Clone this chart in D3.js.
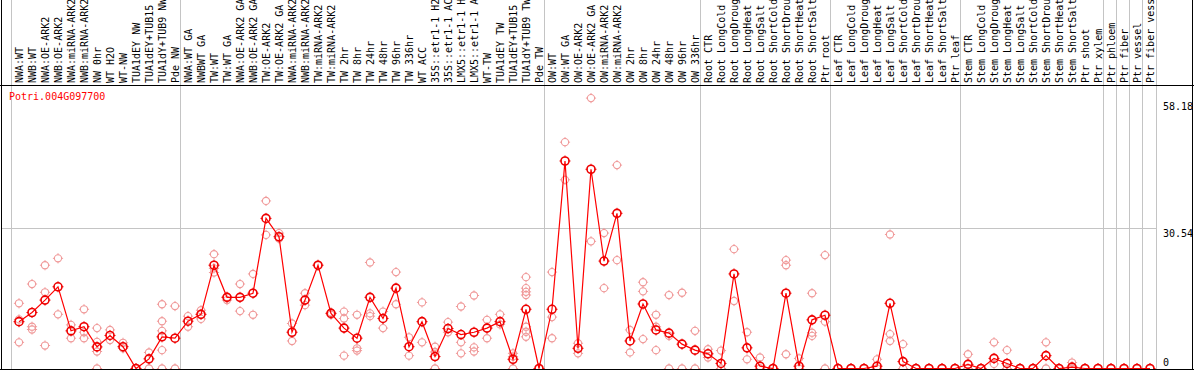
<!DOCTYPE html>
<html lang="en">
<head>
<meta charset="utf-8">
<title>Potri.004G097700</title>
<script src="https://cdn.jsdelivr.net/npm/d3@7"></script>
<style>
  body { margin: 0; background: #fff; }
  svg { display: block; font-family: "DejaVu Sans Mono", monospace; font-size: 10px; }
</style>
</head>
<body>
<svg id="chart" width="1194" height="370"></svg>
<script>

var geneName = "Potri.004G097700";

// sample labels, as shown (cut at 14 chars)
var samples = [
  "NWA:WT", "NWB:WT", "NWA:OE-ARK2", "NWB:OE-ARK2", "NWA:miRNA-ARK2", "NWB:miRNA-ARK2",
  "NW 0hr", "WT H2O", "WT-NW", "TUA1dEY NW", "TUA1dEY+TUB15", "TUA1dY+TUB9 NW", "Pde NW",
  "NWA:WT GA", "NWBWT GA", "TW:WT", "TW:WT GA", "NWA:OE-ARK2 GA", "NWB:OE-ARK2 GA",
  "TW:OE-ARK2", "TW:OE-ARK2 GA", "NWA:miRNA-ARK2", "NWB:miRNA-ARK2", "TW:miRNA-ARK2",
  "TW:miRNA-ARK2", "TW 2hr", "TW 8hr", "TW 24hr", "TW 48hr", "TW 96hr", "TW 336hr",
  "WT ACC", "35S::etr1-1 H2", "35S::etr1-1 AC", "LMX5::etr1-1 H", "LMX5::etr1-1 A",
  "WT-TW", "TUA1dEY TW", "TUA1dEY+TUB15", "TUA1dY+TUB9 TW", "Pde TW",
  "OW:WT", "OW:WT GA", "OW:OE-ARK2", "OW:OE-ARK2 GA", "OW:miRNA-ARK2", "OW:miRNA-ARK2",
  "OW 2hr", "OW 8hr", "OW 24hr", "OW 48hr", "OW 96hr", "OW 336hr",
  "Root CTR", "Root LongCold", "Root LongDroug", "Root LongHeat", "Root LongSalt",
  "Root ShortCold", "Root ShortDrou", "Root ShortHeat", "Root ShortSalt", "Ptr root",
  "Leaf CTR", "Leaf LongCold", "Leaf LongDroug", "Leaf LongHeat", "Leaf LongSalt",
  "Leaf ShortCold", "Leaf ShortDrou", "Leaf ShortHeat", "Leaf ShortSalt", "Ptr leaf",
  "Stem CTR", "Stem LongCold", "Stem LongDroug", "Stem LongHeat", "Stem LongSalt",
  "Stem ShortCold", "Stem ShortDrou", "Stem ShortHeat", "Stem ShortSalt", "Ptr shoot",
  "Ptr xylem", "Ptr phloem", "Ptr fiber", "Ptr vessel", "Ptr fiber vess"
];

// index of the first sample of each group (gray separators)
var groupStarts = [0, 13, 41, 53, 63, 73, 84, 85, 86, 87];

// mean expression per sample
var means = [
  10.2, 12.2, 14.9, 17.8, 8.2, 9.1, 4.7, 7.2, 4.75, 0, 2.1, 6.9, 6.6,
  10.3, 11.8, 22.5, 15.5, 15.5, 16.4, 32.7, 28.7, 7.9, 14.9, 22.5, 12.0, 8.8, 6.6,
  15.5, 10.9, 17.5, 4.75, 10.2, 2.6, 8.7, 7.4, 7.9, 8.8, 10.2, 2.0, 12.9, 0,
  12.9, 45.2, 4.4, 43.4, 23.4, 33.8, 6.0, 14.05, 8.4, 7.7, 5.3, 4.0,
  3.2, 1.1, 20.6, 4.5, 0.5, 0, 16.4, 0.5, 10.6, 11.6,
  0, 0, 0, 0.5, 14.2, 1.5, 0, 0, 0, 0,
  0.9, 0, 2.2, 1.1, 0, 0, 2.8, 0, 0.3, 0, 0,
  0, 0, 0, 0
];

// individual replicates per sample
var replicates = [
  [14.2, 5.7, 10.7], [18.4, 9.1, 8.5], [22.5, 16.6, 5.0], [24.0, 11.8], [9.5, 6.6], [12.9, 7.9, 6.6],
  [8.8, 5.8, 3.7, 0], [8.4, 6.2], [5.6, 4.4], [0], [3.5, 0], [14.0, 10.3, 8.2, 4.0, 0], [13.6, 0],
  [11.4, 9.1], [12.7, 10.8], [24.9, 21.8, 20.9], [14.9, 15.6], [18.4, 12.5], [20.6, 11.7],
  [36.5, 29.1], [29.5, 28.3], [9.8, 6.0], [16.4, 13.8], [22.5], [12.2, 11.7], [12.4, 10.9, 2.8],
  [11.7, 4.4, 3.9], [23.1, 12.0, 11.4], [12.4, 8.8], [21.0, 14.0], [6.8, 2.8], [14.4, 5.7],
  [4.75, 3.6, 0], [10.1, 7.9], [13.5, 5.7, 3.3], [15.9, 4.6, 3.7], [10.6, 6.6], [11.8, 9.6],
  [3.3, 2.6, 0], [19.9, 17.5, 16.7, 16.0, 9.1, 8.0, 6.9], [0],
  [21.0, 11.2, 6.6], [49.3, 41.1], [5.5, 3.3], [58.9, 27.7], [29.5, 17.5], [44.3, 23.6],
  [8.4, 3.5], [18.8, 16.8, 6.4], [11.7, 9.1, 4.0], [16.0, 7.1, 0], [16.5, 0], [8.2, 0],
  [4.2, 2.4], [3.9, 0], [26.0, 14.7], [7.9, 2.0], [2.4, 0], [0], [23.6, 22.5, 3.1], [2.2, 0],
  [16.4, 7.8, 7.1], [24.7, 10.2, 0],
  [0], [0], [0], [2.0, 0], [29.2, 7.5, 6.0], [5.3, 0], [0], [0], [0], [0],
  [3.1, 0], [0], [5.7, 1.0], [4.0, 0], [0], [0], [5.7, 0], [0], [1.3, 0], [0], [0],
  [0], [0], [0], [0]
];

// right axis labels
var yTicks = [0, 30.54, 58.18];
var gridValue = 30.54;

var W = 1194, H = 370;
var headerY = 85.5, bottomY = 369, plotRight = 1156.5;

var svg = d3.select("#chart");

var x = d3.scaleBand()
  .domain(d3.range(samples.length))
  .range([12.5, 12.5 + samples.length * 13]);

var cx = function(i) { return x(i) + x.bandwidth() / 2; };

var y = d3.scaleLinear()
  .domain([0, 58.18])
  .range([368.5, 101.4]);

// gray separators between groups (full height)
var seps = groupStarts.map(function(i) { return x(i) - 1; });
seps.push(plotRight);

svg.append("g").selectAll("line")
  .data(seps)
  .enter().append("line")
  .attr("x1", function(d) { return d; })
  .attr("x2", function(d) { return d; })
  .attr("y1", 0)
  .attr("y2", H)
  .attr("stroke", "#c4c4c4")
  .attr("stroke-width", 1);

// gridline
svg.append("line")
  .attr("x1", 2).attr("x2", plotRight)
  .attr("y1", Math.round(y(gridValue)) + 0.5)
  .attr("y2", Math.round(y(gridValue)) + 0.5)
  .attr("stroke", "#c4c4c4");

// sample labels, rotated
svg.append("g").selectAll("text")
  .data(samples)
  .enter().append("text")
  .attr("transform", function(d, i) { return "translate(" + (cx(i) + 0.5) + ",83) rotate(-90)"; })
  .attr("dy", "0.35em")
  .attr("fill", "#000")
  .text(function(d) { return d; });

// frame
svg.append("line").attr("x1", 0).attr("x2", W).attr("y1", headerY).attr("y2", headerY).attr("stroke", "#000");
svg.append("line").attr("x1", 1.5).attr("x2", 1.5).attr("y1", 0).attr("y2", H).attr("stroke", "#000");
svg.append("line").attr("x1", 1192.5).attr("x2", 1192.5).attr("y1", 0).attr("y2", H).attr("stroke", "#000");

// gene name
svg.append("text")
  .attr("x", 9)
  .attr("y", 100)
  .attr("fill", "#ff0000")
  .text(geneName);

// right axis labels
svg.append("g").selectAll("text")
  .data(yTicks)
  .enter().append("text")
  .attr("x", 1163)
  .attr("y", function(d) { return d === 0 ? y(d) - 2.5 : y(d) + 9; })
  .attr("fill", "#000")
  .text(function(d) { return d === 0 ? "0" : d3.format(".2f")(d); });

// circle with small ticks at the four compass points
function tickedCircle(g, px, py, r, color, sw) {
  g.append("circle")
    .attr("cx", px).attr("cy", py).attr("r", r)
    .attr("fill", "none").attr("stroke", color).attr("stroke-width", sw);
  [[0, -1], [0, 1], [-1, 0], [1, 0]].forEach(function(t) {
    g.append("line")
      .attr("x1", px + t[0] * (r - 0.5)).attr("y1", py + t[1] * (r - 0.5))
      .attr("x2", px + t[0] * (r + 1.5)).attr("y2", py + t[1] * (r + 1.5))
      .attr("stroke", color).attr("stroke-width", 1);
  });
}

// replicates
var repG = svg.append("g");
replicates.forEach(function(reps, i) {
  reps.forEach(function(v) {
    tickedCircle(repG, cx(i), y(v), 3.6, "#f09a9a", 1.1);
  });
});

// mean line
var line = d3.line()
  .x(function(d, i) { return cx(i); })
  .y(function(d) { return y(d); });

svg.append("path")
  .datum(means)
  .attr("d", line)
  .attr("fill", "none")
  .attr("stroke", "#ff0000")
  .attr("stroke-width", 1.2);

// means
var meanG = svg.append("g");
means.forEach(function(v, i) {
  tickedCircle(meanG, cx(i), y(v), 4, "#ee0000", 1.6);
});

// bottom border
svg.append("line").attr("x1", 0).attr("x2", W).attr("y1", bottomY + 0.5).attr("y2", bottomY + 0.5).attr("stroke", "#000");

</script>
</body>
</html>
